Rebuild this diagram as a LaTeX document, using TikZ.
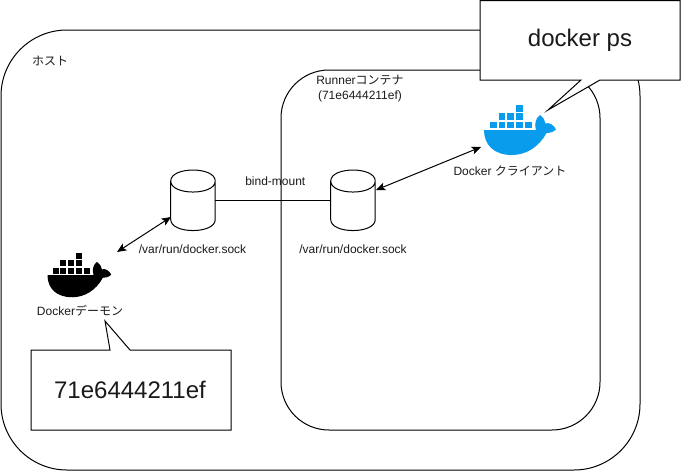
\documentclass[tikz,border=0pt]{standalone}
\usepackage{fontspec}
\setmainfont{Liberation Sans}
\newfontfamily\jpfont{Noto Sans CJK JP}
\usetikzlibrary{arrows.meta}
\definecolor{dockerblue}{HTML}{099CEC}
\definecolor{txt}{HTML}{1A1A1A}
\tikzset{
  x=0.75pt,y=-0.75pt,
  frame/.style={draw=black,line width=0.75pt,fill=none},
  wire/.style={draw=black,line width=0.75pt},
  dbl/.style={wire,{Stealth[length=7pt,width=6pt,inset=1.6pt]}-{Stealth[length=7pt,width=6pt,inset=1.6pt]}},
  can/.style={rectangle,minimum width=33.4pt,minimum height=45.4pt,inner sep=0pt,outer sep=0pt},
  lbl/.style={font=\fontsize{9pt}{11.4pt}\selectfont,text=txt,align=center,inner sep=0pt},
  big/.style={font=\fontsize{18pt}{22pt}\selectfont,text=txt,inner sep=0pt},
  callout/.style={draw=black,line width=0.75pt,fill=white,line join=miter},
  whale/.pic={
    \foreach \bx/\by in {32.3/0.3,14.6/8.4,23.4/8.4,32.3/8.4,6/16.5,14.6/16.5,23.4/16.5,32.3/16.5,41/16.5}
      \fill (\bx,\by) rectangle ++(6.8,6.8);
    \fill (0,25) -- (52,25)
      .. controls (50,18) and (52,13) .. (56,10)
      .. controls (59,12) and (61,15) .. (61.5,18.5)
      .. controls (65,17) and (70,20) .. (72,24.5)
      .. controls (69,27.5) and (65,28) .. (62.5,28)
      .. controls (55,42) and (42,50) .. (28,50)
      .. controls (10,50) and (0,40) .. (0,25) -- cycle;
  }
}
\begin{document}
\begin{tikzpicture}
\useasboundingbox (0,0) rectangle (681,471);
% containers
\draw[frame,rounded corners=49.5pt] (1,30) rectangle (640,470);
\draw[frame,rounded corners=36pt] (281,70) rectangle (600,430);
\node[lbl] (host) at (50,61) {\jpfont ホスト};
\node[lbl] (runner) at (360,88.5) {Runner{\jpfont コンテナ}\\(71e6444211ef)};
% sockets
\node[can] (sockL) at (193,200.3) {};
\node[can] (sockR) at (353,200.3) {};
\foreach \s in {sockL,sockR}
  \draw[wire,shift={(\s.north west)}]
    (0,11) .. controls (0,-3.67) and (44.5,-3.67) .. (44.5,11) -- (44.5,49.5)
    .. controls (44.5,64.2) and (0,64.2) .. (0,49.5) -- cycle
    (0,11) .. controls (0,25.67) and (44.5,25.67) .. (44.5,11);
\node[lbl] (sockLt) at (192.5,249) {/var/run/docker.sock};
\node[lbl] (sockRt) at (353,249) {/var/run/docker.sock};
\draw[wire] (sockL.east) -- node[lbl,pos=0.52,yshift=14.2pt] (bind) {bind-mount} (sockR.west);
% whales
\pic[black,scale=0.885] at (47.5,253) {whale};
\pic[dockerblue] at (484,105) {whale};
\node[lbl] (daemon) at (80,311) {Docker{\jpfont デーモン}};
\node[lbl] (client) at (510,171) {Docker {\jpfont クライアント}};
% connectors
\coordinate (daemonEnd) at (117,252);
\coordinate (sockLEnd) at (171,217);
\coordinate (sockREnd) at (376,190);
\coordinate (clientEnd) at (481,147);
\draw[dbl] (daemonEnd) -- (sockLEnd);
\draw[dbl] (sockREnd) -- (clientEnd);
% callouts
\draw[callout] (480,0.5) -- (680,0.5) -- (680,80) -- (600,80) -- (548,110) -- (581,80) -- (480,80) -- cycle;
\node[big] (cmd) at (580,40) {docker ps};
\draw[callout] (31,350) -- (110,350) -- (105,321) -- (130,350) -- (231,350) -- (231,430) -- (31,430) -- cycle;
\node[big] (cid) at (130,390) {71e6444211ef};
\end{tikzpicture}
\end{document}
